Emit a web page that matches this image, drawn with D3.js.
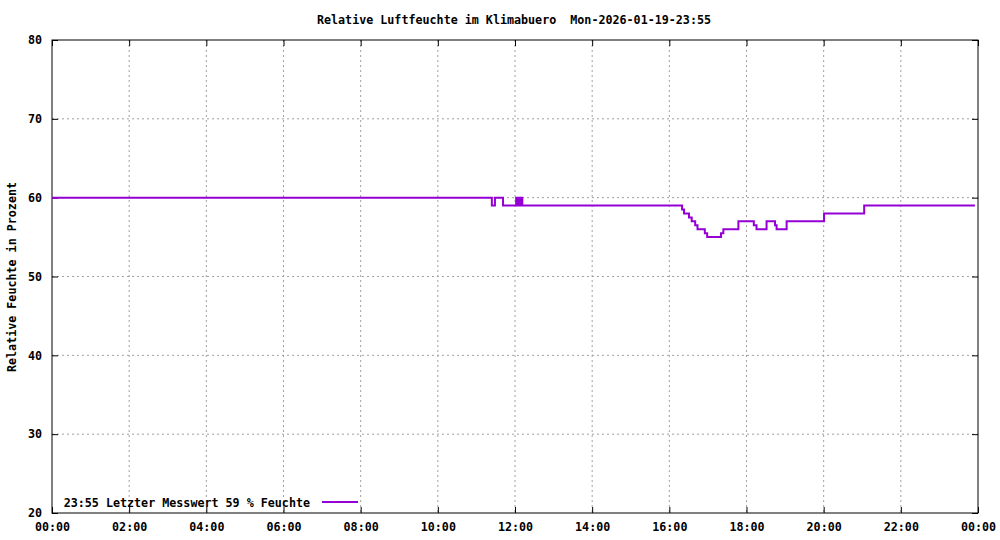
<!DOCTYPE html><html><head><meta charset="utf-8"><script src="https://cdn.jsdelivr.net/npm/d3@7"></script>
<style>body{margin:0;background:#fff}text{font-family:"DejaVu Sans Mono",monospace;font-size:11.7px;white-space:pre}</style></head><body><svg id="c" width="1000" height="540"></svg><script>
const title="Relative Luftfeuchte im Klimabuero  Mon-2026-01-19-23:55";
const yLabel="Relative Feuchte in Prozent";
const legendText="23:55 Letzter Messwert 59 % Feuchte";
const xTicks=[0,2,4,6,8,10,12,14,16,18,20,22,24];
const xTickLabels=["00:00","02:00","04:00","06:00","08:00","10:00","12:00","14:00","16:00","18:00","20:00","22:00","00:00"];
const yTicks=[20,30,40,50,60,70,80];
// [hour, value] step-after
const hours=[0,11.40,11.48,11.69,12.03,12.05,12.10,12.12,12.17,12.19,16.33,16.38,16.51,16.58,16.67,16.73,16.92,16.98,17.34,17.40,17.79,18.19,18.26,18.52,18.74,18.78,19.04,20.01,21.05,23.92];
const values=[60,59,60,59,60,59,60,59,60,59,58.5,58,57.5,57,56.5,56,55.5,55,55.5,56,57,56.5,56,57,56.5,56,57,58,59,59];
const svg=d3.select("#c");
const L=52,R=978,T=40,B=513;
const x=d3.scaleLinear().domain([0,24]).range([L,R]);
const y=d3.scaleLinear().domain([20,80]).range([B,T]);
const g=svg.append("g");
xTicks.slice(1,-1).forEach(t=>g.append("line").attr("x1",x(t)).attr("x2",x(t)).attr("y1",T).attr("y2",B).attr("stroke","#a0a0a0").attr("stroke-dasharray","2,3"));
yTicks.slice(1,-1).forEach(t=>g.append("line").attr("x1",L).attr("x2",R).attr("y1",y(t)).attr("y2",y(t)).attr("stroke","#a0a0a0").attr("stroke-dasharray","2,3"));
svg.append("g").attr("transform",`translate(0,${B})`).call(d3.axisBottom(x).tickValues(xTicks).tickFormat((d,i)=>xTickLabels[i]).tickSize(-6).tickPadding(10)).call(a=>{a.select(".domain").remove();a.selectAll("text").attr("font-weight","bold").style("font-size","11.7px").style("font-family","DejaVu Sans Mono");});
svg.append("g").attr("transform",`translate(0,${T})`).call(d3.axisTop(x).tickValues(xTicks).tickFormat("").tickSize(-6)).call(a=>a.select(".domain").remove());
svg.append("g").attr("transform",`translate(${L},0)`).call(d3.axisLeft(y).tickValues(yTicks).tickSize(-6).tickPadding(10)).call(a=>{a.select(".domain").remove();a.selectAll("text").attr("font-weight","bold").style("font-size","11.7px").style("font-family","DejaVu Sans Mono");});
svg.append("g").attr("transform",`translate(${R},0)`).call(d3.axisRight(y).tickValues(yTicks).tickFormat("").tickSize(-6)).call(a=>a.select(".domain").remove());
svg.append("rect").attr("x",L).attr("y",T).attr("width",R-L).attr("height",B-T).attr("fill","none").attr("stroke","#000");
const data=hours.map((h,i)=>[h,values[i]]);
svg.append("path").datum(data).attr("d",d3.line().x(d=>x(d[0])).y(d=>y(d[1])).curve(d3.curveStepAfter)).attr("fill","none").attr("stroke","#9400d3").attr("stroke-width",2);
svg.append("text").attr("x",514).attr("y",24).attr("text-anchor","middle").attr("font-weight","bold").text(title);
svg.append("text").attr("transform","translate(16,277) rotate(-90)").attr("text-anchor","middle").attr("font-weight","bold").text(yLabel);
svg.append("text").attr("x",310).attr("y",507).attr("text-anchor","end").attr("font-weight","bold").text(legendText);
svg.append("line").attr("x1",322).attr("x2",358).attr("y1",502).attr("y2",502).attr("stroke","#9400d3").attr("stroke-width",2);
</script></body></html>
